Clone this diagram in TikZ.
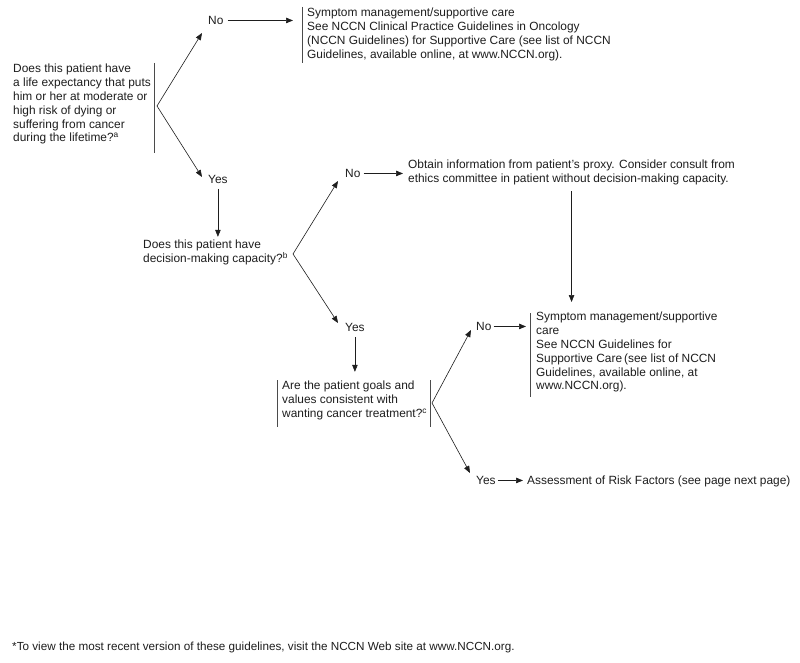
\documentclass[tikz,border=0pt]{standalone}
\usepackage{fontspec}
\setmainfont{Liberation Sans}
\usetikzlibrary{arrows.meta,calc}
\definecolor{ink}{HTML}{1E1E1E}
\begin{document}
\begin{tikzpicture}[x=1pt,y=-1pt,
  txt/.style={font=\fontsize{11.9}{13.8}\selectfont, align=left, inner sep=0pt, text=ink},
  lab/.style={font=\fontsize{11.9}{13.8}\selectfont, inner sep=0pt, text=ink},
  arr/.style={draw=ink, line width=0.6pt, -{Triangle[length=7pt,width=5.5pt]}},
  bar/.style={draw=ink!80, line width=0.6pt}]
\useasboundingbox[fill=white] (0,0) rectangle (800,663);

% Question 1
\node[txt, anchor=north west] (q1) at (13,64) {Does this patient have\\a life expectancy that puts\\him or her at moderate or\\high risk of dying or\\suffering from cancer\\during the lifetime?\textsuperscript{a}};
\draw[bar] (154,63) -- (154,153);
\coordinate (j1) at (157,106);

\node[lab, anchor=base west] (no1) at (208,24.5) {No};
\coordinate (t1) at (202,33);
\draw[arr] (j1) -- (t1);
\node[txt, anchor=north west] (b1) at (307,8) {Symptom management/supportive care\\See NCCN Clinical Practice Guidelines in Oncology\\(NCCN Guidelines) for Supportive Care (see list of NCCN\\Guidelines, available online, at www.NCCN.org).};
\draw[bar] (302,7) -- (302,63);
\draw[arr, shorten <=4pt, shorten >=14pt] (no1.east) -- (no1.east -| b1.west);

\node[lab, anchor=base west] (yes1) at (208,183.5) {Yes};
\coordinate (t2) at (202,177);
\draw[arr] (j1) -- (t2);
\draw[arr] ([yshift=-5pt]yes1.south) -- ++(0,48);

% Question 2
\node[txt, anchor=north west] (q2) at (143,240) {Does this patient have\\decision-making capacity?\textsuperscript{b}};
\coordinate (j2) at (293,254);

\node[lab, anchor=base west] (no2) at (345,177.5) {No};
\coordinate (t3) at (338,181);
\draw[arr] (j2) -- (t3);
\node[txt, anchor=north west] (ob) at (408,160) {Obtain information from patient’s proxy. Consider consult from\\ethics committee in patient without decision-making capacity.};
\draw[arr, shorten <=3pt, shorten >=5pt] (no2.east) -- (no2.east -| ob.west);

\node[txt, anchor=north west] (b3) at (536,312) {Symptom management/supportive\\care\\See NCCN Guidelines for\\Supportive Care\,(see list of NCCN\\Guidelines, available online, at\\www.NCCN.org).};
\draw[bar] (530,313) -- (530,397);
\draw[arr, shorten <=6pt, shorten >=10pt] (ob.south) -- (ob.south |- b3.north);

\node[lab, anchor=base west] (yes2) at (345,331.5) {Yes};
\coordinate (t4) at (338,323);
\draw[arr] (j2) -- (t4);
\draw[arr] ([yshift=-5pt]yes2.south) -- ++(0,35);

% Question 3
\node[txt, anchor=north west] (q3) at (282,381) {Are the patient goals and\\values consistent with\\wanting cancer treatment?\textsuperscript{c}};
\draw[bar] (277,380) -- (277,427);
\draw[bar] (430,380) -- (430,427);
\coordinate (j3) at (432,403);

\node[lab, anchor=base west] (no3) at (476,330.5) {No};
\coordinate (t5) at (471,330);
\draw[arr] (j3) -- (t5);
\draw[arr, shorten <=2pt, shorten >=10pt] (no3.east) -- (no3.east -| b3.west);

\node[lab, anchor=base west] (yes3) at (476,484.5) {Yes};
\coordinate (t6) at (470,473);
\draw[arr] (j3) -- (t6);
\node[lab, anchor=base west] (ra) at (527,484.5) {Assessment of Risk Factors (see page next page)};
\draw[arr, shorten <=2pt, shorten >=4pt] (yes3.east) -- (yes3.east -| ra.west);

% Footnote
\node[lab, font=\fontsize{11.7}{13}\selectfont, anchor=base west] (fn) at (12,650) {*To view the most recent version of these guidelines, visit the NCCN Web site at www.NCCN.org.};
\end{tikzpicture}
\end{document}
